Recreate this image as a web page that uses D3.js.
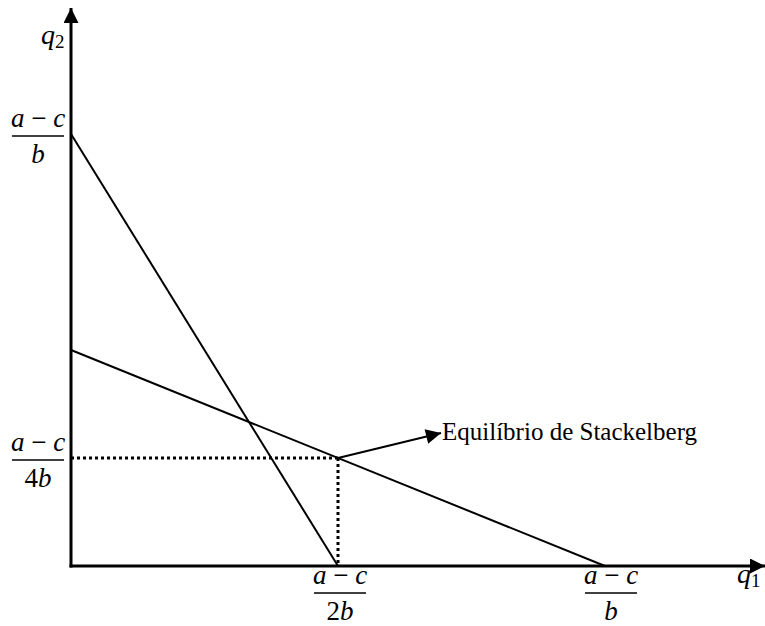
<!DOCTYPE html>
<html>
<head>
<meta charset="utf-8">
<script src="https://cdn.jsdelivr.net/npm/d3@7"></script>
<style>
  body { margin: 0; background: #fff; }
  svg text { font-family: "Times New Roman", Times, "Liberation Serif", "DejaVu Serif", "Noto Serif", serif; }
</style>
</head>
<body>
<div class="canvas"></div>
<script>
// chart data, in units of (a-c)/b
const leaderLine = [[0, 1], [0.5, 0]];      // q2 = (a-c)/b - 2 q1
const followerLine = [[0, 0.5], [1, 0]];    // q2 = (a-c)/2b - q1/2
const equilibrium = [0.5, 0.25];
const xTicks = [0.5, 1];
const xTickDen = ['2b', 'b'];
const yTicks = [1, 0.25];
const yTickDen = ['b', '4b'];
const eqLabel = 'Equilíbrio de Stackelberg';

const width = 765, height = 626;

const svg = d3.select('.canvas')
    .append('svg')
    .attr('width', width)
    .attr('height', height);

const x = d3.scaleLinear().domain([0, 1]).range([71, 605]);
const y = d3.scaleLinear().domain([0, 1]).range([566, 134]);

// arrow heads
svg.append('defs').append('marker')
    .attr('id', 'head')
    .attr('viewBox', '0 0 10 10')
    .attr('refX', 10).attr('refY', 5)
    .attr('markerWidth', 16).attr('markerHeight', 15)
    .attr('markerUnits', 'userSpaceOnUse')
    .attr('orient', 'auto')
  .append('path')
    .attr('d', 'M0,0 L10,5 L0,10 Z')
    .attr('fill', '#000');

// dotted guides to the equilibrium
svg.append('line')
    .attr('x1', x(0)).attr('y1', y(equilibrium[1]))
    .attr('x2', x(equilibrium[0])).attr('y2', y(equilibrium[1]))
    .attr('stroke', '#000').attr('stroke-width', 3)
    .attr('stroke-dasharray', '3,3');
svg.append('line')
    .attr('x1', x(equilibrium[0])).attr('y1', y(equilibrium[1]))
    .attr('x2', x(equilibrium[0])).attr('y2', y(0))
    .attr('stroke', '#000').attr('stroke-width', 3)
    .attr('stroke-dasharray', '3,3');

// the two lines
const line = d3.line().x(d => x(d[0])).y(d => y(d[1]));
svg.selectAll('path.curve')
    .data([leaderLine, followerLine])
    .enter()
    .append('path')
    .attr('class', 'curve')
    .attr('d', line)
    .attr('fill', 'none')
    .attr('stroke', '#000')
    .attr('stroke-width', 2);

// axes with arrows
svg.append('line')
    .attr('x1', x(0)).attr('y1', y(0) + 1.5)
    .attr('x2', x(0)).attr('y2', 8)
    .attr('stroke', '#000').attr('stroke-width', 3)
    .attr('marker-end', 'url(#head)');
svg.append('line')
    .attr('x1', x(0) - 1.5).attr('y1', y(0))
    .attr('x2', 765).attr('y2', y(0))
    .attr('stroke', '#000').attr('stroke-width', 3)
    .attr('marker-end', 'url(#head)');

// axis names
const axisName = (px, py, sub) => {
    const t = svg.append('text').attr('x', px).attr('y', py).style('font-size', '28px');
    t.append('tspan').style('font-style', 'italic').text('q');
    t.append('tspan').style('font-size', '19px').attr('dy', 4).text(sub);
};
axisName(41, 44, '2');
axisName(737, 583, '1');

// fraction label (a - c) / den, centred on cx with bar at by
const fraction = (cx, by, den) => {
    const g = svg.append('g');
    const num = g.append('text')
        .attr('x', cx).attr('y', by - 9)
        .attr('text-anchor', 'middle')
        .style('font-size', '27px');
    num.append('tspan').style('font-style', 'italic').text('a');
    num.append('tspan').text('\u2005\u2212\u2005');
    num.append('tspan').style('font-style', 'italic').text('c');
    g.append('line')
        .attr('x1', cx - 26).attr('x2', cx + 26)
        .attr('y1', by).attr('y2', by)
        .attr('stroke', '#000').attr('stroke-width', 1.3);
    const d = g.append('text')
        .attr('x', cx).attr('y', by + 27)
        .attr('text-anchor', 'middle')
        .style('font-size', '27px');
    const m = den.match(/^(\d*)(.*)$/);
    if (m[1]) d.append('tspan').text(m[1]);
    d.append('tspan').style('font-style', 'italic').text(m[2]);
};

yTicks.forEach((v, i) => fraction(38, y(v) + 2, yTickDen[i]));
xTicks.forEach((v, i) => fraction(x(v) + (i ? 6 : 2), 593, xTickDen[i]));

// equilibrium annotation
svg.append('line')
    .attr('x1', x(equilibrium[0])).attr('y1', y(equilibrium[1]))
    .attr('x2', 441).attr('y2', 433)
    .attr('stroke', '#000').attr('stroke-width', 2)
    .attr('marker-end', 'url(#head)');
svg.append('text')
    .attr('x', 442).attr('y', 440)
    .style('font-size', '25px')
    .text(eqLabel);
</script>
</body>
</html>
